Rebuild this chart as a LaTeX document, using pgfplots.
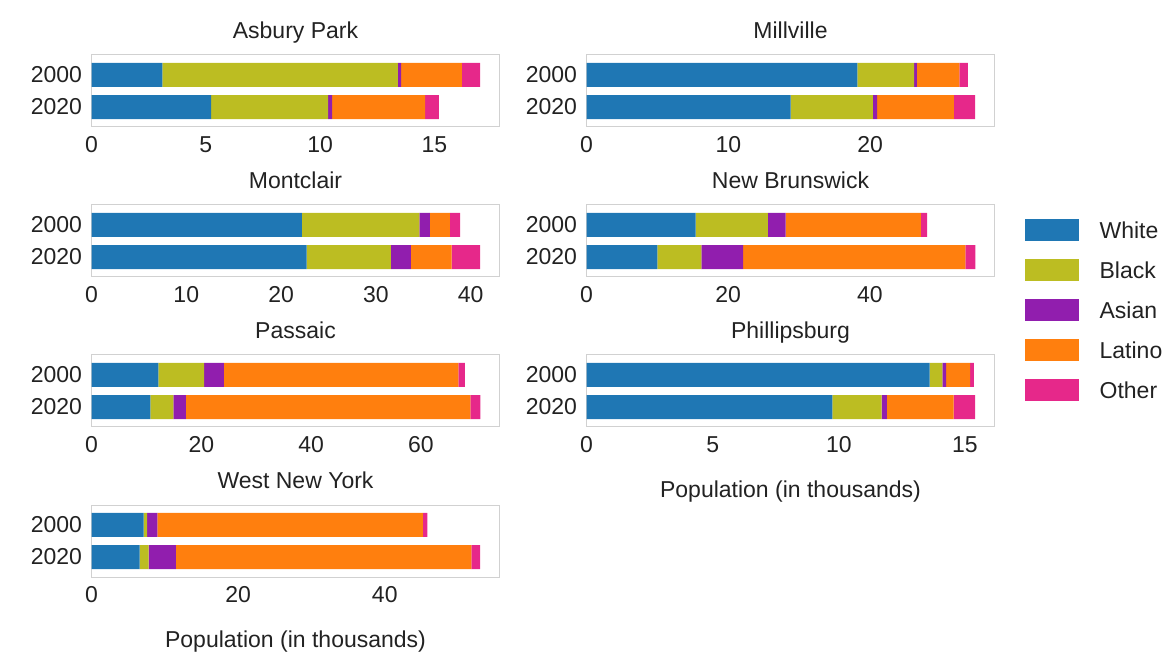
\documentclass[border=0pt]{standalone}
\usepackage{pgfplots}
\pgfplotsset{compat=1.18}
\usepackage{pgfplotstable}
\usepackage{fontspec}
\setmainfont{Liberation Sans}
\definecolor{cWhite}{HTML}{1F77B4}
\definecolor{cBlack}{HTML}{BCBD22}
\definecolor{cAsian}{HTML}{911EAE}
\definecolor{cLatino}{HTML}{FF7F0E}
\definecolor{cOther}{HTML}{E6288A}
\definecolor{txt}{HTML}{222222}
\newcommand{\fsz}{\fontsize{23}{27}\selectfont}

% values in thousands, per group (2000 = row 0, 2020 = row 1)
\pgfplotstableread{
y White Black Asian Latino Other
0 3.10 10.30 0.15 2.65 0.80
1 5.23 5.12 0.18 4.07 0.60
}\asbury
\pgfplotstableread{
y White Black Asian Latino Other
0 19.1 4.0 0.2 3.0 0.6
1 14.4 5.8 0.3 5.4 1.5
}\millville
\pgfplotstableread{
y White Black Asian Latino Other
0 22.2 12.4 1.1 2.1 1.1
1 22.7 8.9 2.1 4.3 3.0
}\montclair
\pgfplotstableread{
y White Black Asian Latino Other
0 15.4 10.2 2.5 19.1 0.9
1 10.0 6.2 5.9 31.4 1.4
}\newbrunswick
\pgfplotstableread{
y White Black Asian Latino Other
0 12.2 8.3 3.6 42.7 1.2
1 10.7 4.2 2.3 51.8 1.8
}\passaic
\pgfplotstableread{
y White Black Asian Latino Other
0 13.60 0.50 0.15 0.95 0.15
1 9.74 1.96 0.20 2.65 0.85
}\phillipsburg
\pgfplotstableread{
y White Black Asian Latino Other
0 7.10 0.50 1.40 36.2 0.60
1 6.55 1.25 3.70 40.3 1.20
}\westny

\newcommand{\stackbars}[1]{%
  \addplot[fill=cWhite, draw=none] table[x=White, y=y] {#1};
  \addplot[fill=cBlack, draw=none] table[x=Black, y=y] {#1};
  \addplot[fill=cAsian, draw=none] table[x=Asian, y=y] {#1};
  \addplot[fill=cLatino, draw=none] table[x=Latino, y=y] {#1};
  \addplot[fill=cOther, draw=none] table[x=Other, y=y] {#1};
}

\pgfplotsset{panel/.style={
  scale only axis, width=408pt, height=72pt,
  xbar stacked, bar width=0.75,
  y dir=reverse, ymin=-0.62, ymax=1.62,
  ytick={0,1}, yticklabels={2000,2020},
  xmin=0,
  axis line style={draw=black!18, line width=1pt},
  major tick length=0pt, tick style={draw=none},
  tick label style={font=\fsz, text=txt},
  xticklabel style={yshift=-6pt},
  yticklabel style={xshift=-6pt},
  /pgf/number format/assume math mode=true,
  title style={font=\fsz, text=txt, inner sep=0pt, text depth=5pt, anchor=south, at={(0.5,1)}, yshift=5pt},
  xlabel style={font=\fsz, text=txt, at={(axis description cs:0.5,0)}, anchor=base, inner sep=0pt, yshift=-70pt},
  anchor=south west,
}}

\begin{document}
\begin{tikzpicture}[x=1pt,y=1pt]
\useasboundingbox (0,0) rectangle (1169,653);

\begin{axis}[panel, at={(91.5pt,526pt)}, title={Asbury Park}, xmax=17.85, xtick={0,5,10,15}]
\stackbars{\asbury}
\end{axis}

\begin{axis}[panel, at={(586.5pt,526pt)}, title={Millville}, xmax=28.77, xtick={0,10,20}]
\stackbars{\millville}
\end{axis}

\begin{axis}[panel, at={(91.5pt,376pt)}, title={Montclair}, xmax=43.05, xtick={0,10,20,30,40}]
\stackbars{\montclair}
\end{axis}

\begin{axis}[panel, at={(586.5pt,376pt)}, title={New Brunswick}, xmax=57.6, xtick={0,20,40}]
\stackbars{\newbrunswick}
\end{axis}

\begin{axis}[panel, at={(91.5pt,226pt)}, title={Passaic}, xmax=74.3, xtick={0,20,40,60}]
\stackbars{\passaic}
\end{axis}

\begin{axis}[panel, at={(586.5pt,226pt)}, title={Phillipsburg}, xmax=16.17, xtick={0,5,10,15},
  xlabel={Population (in thousands)},
  legend image code/.code={\fill[#1] (0pt,-10pt) rectangle (54pt,12pt);},
  legend cell align=left,
  legend style={at={(axis description cs:1.066,1.625)}, anchor=west, draw=none, fill=none,
    font=\fsz, text=txt, nodes={inner sep=0pt}, row sep=18pt,
    /tikz/every odd column/.style={column sep=21pt}}]
\stackbars{\phillipsburg}
\legend{White,Black,Asian,Latino,Other}
\end{axis}

\begin{axis}[panel, at={(91.5pt,76pt)}, title={West New York}, xmax=55.65, xtick={0,20,40},
  xlabel={Population (in thousands)}]
\stackbars{\westny}
\end{axis}
\end{tikzpicture}
\end{document}
